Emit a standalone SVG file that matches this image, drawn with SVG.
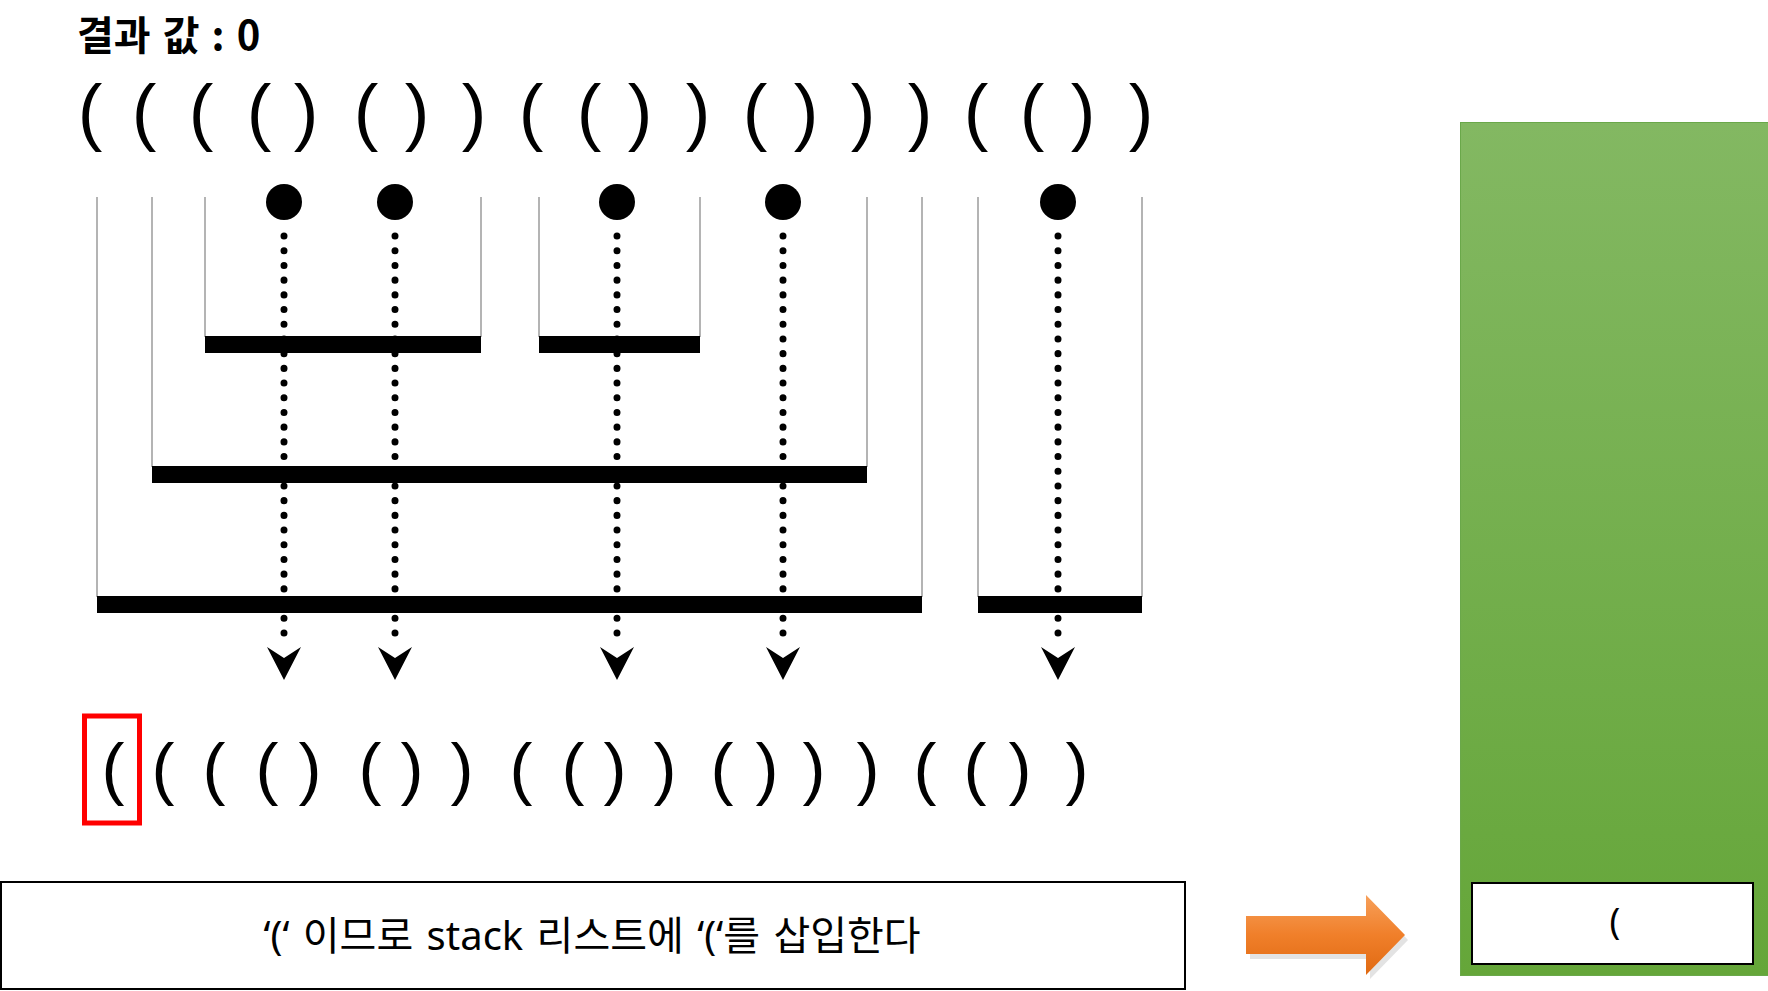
<svg xmlns="http://www.w3.org/2000/svg" xmlns:xlink="http://www.w3.org/1999/xlink" width="1768" height="991" viewBox="0 0 1768 991">
<style>
.paren{font-family:"Liberation Sans","DejaVu Sans",sans-serif;fill:#000;text-anchor:middle}
.thin{stroke:#b4b4b4;stroke-width:2;fill:none}
.bar{fill:#000}
.dots{stroke:#000;stroke-width:7;stroke-linecap:round;stroke-dasharray:0.1 14.6;fill:none}
.kr{font-family:"Noto Sans","Noto Sans CJK KR",sans-serif;fill:#000}
</style>
<defs>
<path id="ah" d="M-17,-33 L0,-22 L17,-33 L0,0 Z" fill="#000"/>
<linearGradient id="green" x1="0" y1="0" x2="0" y2="1">
<stop offset="0" stop-color="#83b862"/>
<stop offset="1" stop-color="#65a639"/>
</linearGradient>
<linearGradient id="orange" x1="0" y1="0" x2="0" y2="1">
<stop offset="0" stop-color="#f7a05a"/>
<stop offset="0.5" stop-color="#f07f2a"/>
<stop offset="1" stop-color="#e06a12"/>
</linearGradient>
</defs>
<rect width="1768" height="991" fill="#fff"/>

<g id="title">
<text x="77" y="50" font-family="Noto Sans CJK KR, sans-serif" font-weight="700" font-size="40" word-spacing="3">결과 값 : 0</text>
</g>

<g id="top-row">
<text class="paren" font-size="74" y="137" x="90 144 201 259 306 366 417 474 531 589 640 698 755 806 863 920 976 1032 1083 1141">(((()())(())()))(())</text>
</g>

<g id="brackets">
<g class="thin">
<line x1="97" y1="197" x2="97" y2="597"/>
<line x1="922" y1="197" x2="922" y2="597"/>
<line x1="152" y1="197" x2="152" y2="467"/>
<line x1="867" y1="197" x2="867" y2="467"/>
<line x1="205" y1="197" x2="205" y2="337"/>
<line x1="481" y1="197" x2="481" y2="337"/>
<line x1="539" y1="197" x2="539" y2="337"/>
<line x1="700" y1="197" x2="700" y2="337"/>
<line x1="978" y1="197" x2="978" y2="597"/>
<line x1="1142" y1="197" x2="1142" y2="597"/>
</g>
<rect class="bar" x="205" y="336" width="276" height="17"/>
<rect class="bar" x="539" y="336" width="161" height="17"/>
<rect class="bar" x="152" y="466" width="715" height="17"/>
<rect class="bar" x="97" y="596" width="825" height="17"/>
<rect class="bar" x="978" y="596" width="164" height="17"/>
</g>

<g id="connectors">
<g id="c1"><circle cx="284" cy="202" r="18"/><line class="dots" x1="284" y1="236" x2="284" y2="647"/><use xlink:href="#ah" x="284" y="680"/></g>
<g id="c2"><circle cx="395" cy="202" r="18"/><line class="dots" x1="395" y1="236" x2="395" y2="647"/><use xlink:href="#ah" x="395" y="680"/></g>
<g id="c3"><circle cx="617" cy="202" r="18"/><line class="dots" x1="617" y1="236" x2="617" y2="647"/><use xlink:href="#ah" x="617" y="680"/></g>
<g id="c4"><circle cx="783" cy="202" r="18"/><line class="dots" x1="783" y1="236" x2="783" y2="647"/><use xlink:href="#ah" x="783" y="680"/></g>
<g id="c5"><circle cx="1058" cy="202" r="18"/><line class="dots" x1="1058" y1="236" x2="1058" y2="647"/><use xlink:href="#ah" x="1058" y="680"/></g>
</g>

<g id="bottom-row">
<text class="paren" font-size="69" y="792" x="113 163 214 267 310 370 412 462 521 573 615 665 722 767 814 868 925 975 1020 1077">(((()())(())()))(())</text>
</g>

<g id="highlight">
<rect x="84.5" y="716" width="55" height="107" fill="none" stroke="#ff0000" stroke-width="5"/>
</g>

<g id="message">
<rect x="1" y="882" width="1184" height="107" fill="#fff" stroke="#000" stroke-width="2"/>
<text x="592" y="950" class="kr" font-size="40" word-spacing="3" text-anchor="middle">‘(‘ 이므로 stack 리스트에 ‘(‘를 삽입한다</text>
</g>

<g id="arrow">
<path d="M1248,918 L1368,918 L1368,897 L1406,937 L1368,976 L1368,956 L1248,956 Z" fill="#c8c8c8" opacity="0.5" transform="translate(2,3)"/>
<path d="M1246,916 L1366,916 L1366,895 L1405,935 L1366,975 L1366,954 L1246,954 Z" fill="url(#orange)"/>
</g>

<g id="stack">
<rect x="1460.5" y="122.5" width="308" height="853" fill="url(#green)" stroke="#6aa84a" stroke-width="1"/>
<rect x="1472" y="883" width="281" height="81" fill="#fff" stroke="#000" stroke-width="2"/>
<text x="1615" y="934" class="kr" font-size="36" text-anchor="middle">(</text>
</g>
</svg>
